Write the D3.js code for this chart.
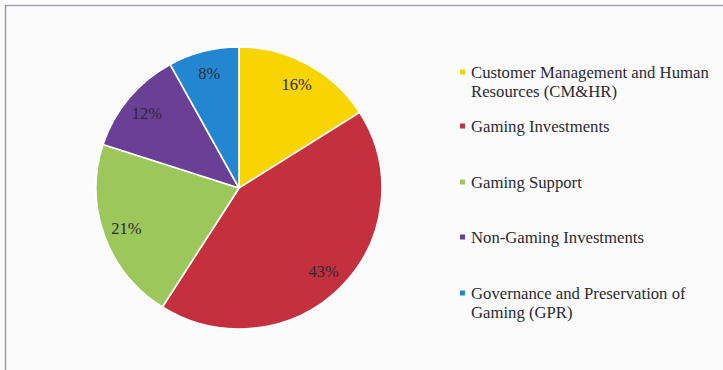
<!DOCTYPE html>
<html>
<head>
<meta charset="utf-8">
<script src="https://cdn.jsdelivr.net/npm/d3@7"></script>
<style>
  html, body { margin: 0; padding: 0; background: #fbfbfb; }
  svg { display: block; }
</style>
</head>
<body>
<svg id="chart" width="723" height="370"></svg>
<script>
// Budget share by program area
const categories = [
  "Customer Management and Human Resources (CM&HR)",
  "Gaming Investments",
  "Gaming Support",
  "Non-Gaming Investments",
  "Governance and Preservation of Gaming (GPR)"
];
const shares = [16, 43, 21, 12, 8];
const sliceLabels = ["16%", "43%", "21%", "12%", "8%"];
const legendLines = [
  ["Customer Management and Human", "Resources (CM&HR)"],
  ["Gaming Investments"],
  ["Gaming Support"],
  ["Non-Gaming Investments"],
  ["Governance and Preservation of", "Gaming (GPR)"]
];
const colors = ["#f8d500", "#c5303f", "#9cc75a", "#6a3f96", "#2287d0"];

const FONT = '"Liberation Serif"';

const svg = d3.select("#chart");
const W = 723, H = 370;

// Frame (top and left rules only)
svg.append("rect").attr("x", 0).attr("y", 0).attr("width", W).attr("height", H).attr("fill", "#fbfbfb");
svg.append("line").attr("x1", 5).attr("x2", W).attr("y1", 5.5).attr("y2", 5.5)
  .attr("stroke", "#a4a4ae").attr("stroke-width", 1.5);
svg.append("line").attr("x1", 5.5).attr("x2", 5.5).attr("y1", 5).attr("y2", H)
  .attr("stroke", "#9a9aa6").attr("stroke-width", 1.5);

const color = d3.scaleOrdinal().domain(categories).range(colors);

const cx = 239, cy = 188, R = 141;
const pie = d3.pie().sort(null).value(d => d.value);
const data = pie(categories.map((c, i) => ({ name: c, value: shares[i], label: sliceLabels[i] })));

const arc = d3.arc().innerRadius(0).outerRadius(R);
const labelArc = d3.arc().innerRadius(118).outerRadius(118);

// Slightly wider than tall, as laid out on the page
const g = svg.append("g").attr("transform", `translate(${cx},${cy}) scale(1.014,1)`);

g.selectAll("path.slice")
  .data(data)
  .join("path")
  .attr("class", "slice")
  .attr("d", arc)
  .attr("fill", d => color(d.data.name))
  .attr("stroke", "#ffffff")
  .attr("stroke-width", 1.6)
  .attr("stroke-linejoin", "round");

// Percent labels, placed in screen space from the arc centroids
data.forEach(d => {
  const [x, y] = labelArc.centroid(d);
  svg.append("text")
    .attr("x", cx + x * 1.014)
    .attr("y", cy + y)
    .attr("text-anchor", "middle")
    .attr("dy", "0.35em")
    .style("font-family", FONT)
    .style("font-size", "16.5px")
    .attr("fill", "#2a2a33")
    .text(d.data.label);
});

// Legend: one text element per line
const legendY = [72, 126, 182, 237, 293];
const lineH = 19;
categories.forEach((c, i) => {
  svg.append("rect")
    .attr("x", 460).attr("y", legendY[i] - 2.5)
    .attr("width", 5).attr("height", 5)
    .attr("fill", color(c));
  legendLines[i].forEach((line, j) => {
    svg.append("text")
      .attr("x", 471)
      .attr("y", legendY[i] + j * lineH)
      .attr("dy", "0.35em")
      .style("font-family", FONT)
      .style("font-size", "16.7px")
      .attr("fill", "#2a2a33")
      .text(line);
  });
});
</script>
</body>
</html>
